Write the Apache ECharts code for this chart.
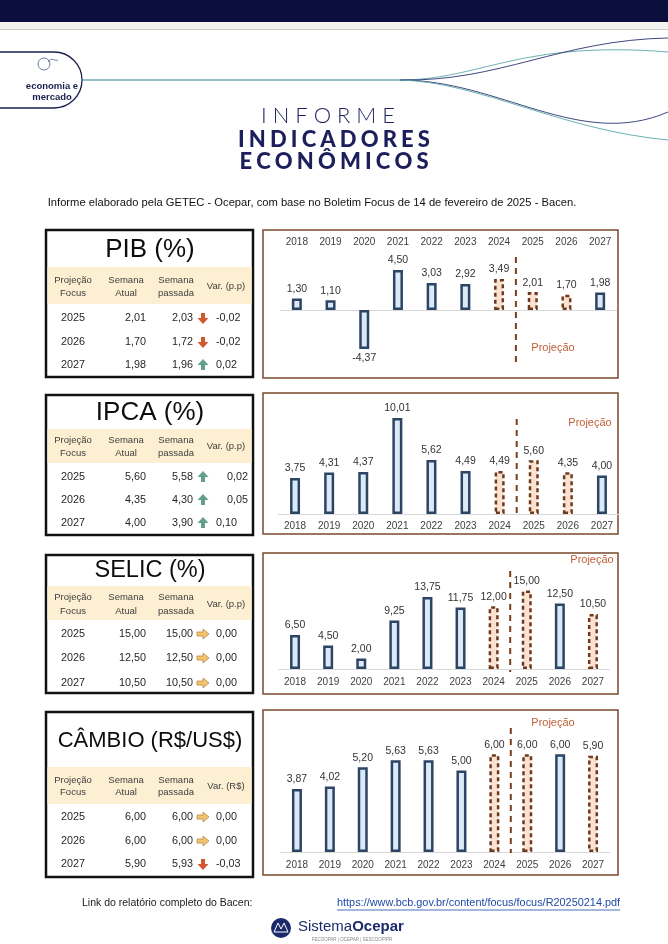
<!DOCTYPE html>
<html><head><meta charset="utf-8">
<script src="https://cdn.jsdelivr.net/npm/echarts@6/dist/echarts.min.js"></script>
<style>html,body{margin:0;padding:0;background:#fff}#c{width:668px;height:944px}</style>
</head><body><div id="c"></div>
<script>
// ---------- DATA ----------
const years = ['2018','2019','2020','2021','2022','2023','2024','2025','2026','2027'];
const projectionStart = '2025';
const pibValues    = [1.30, 1.10, -4.37, 4.50, 3.03, 2.92, 3.49, 2.01, 1.70, 1.98];
const ipcaValues   = [3.75, 4.31, 4.37, 10.01, 5.62, 4.49, 4.49, 5.60, 4.35, 4.00];
const selicValues  = [6.50, 4.50, 2.00, 9.25, 13.75, 11.75, 12.00, 15.00, 12.50, 10.50];
const cambioValues = [3.87, 4.02, 5.20, 5.63, 5.63, 5.00, 6.00, 6.00, 6.00, 5.90];
// bars drawn as estimates (dashed)
const pibEstimate    = [false,false,false,false,false,false,true,true,true,false];
const ipcaEstimate   = [false,false,false,false,false,false,true,true,true,false];
const selicEstimate  = [false,false,false,false,false,false,true,true,false,true];
const cambioEstimate = [false,false,false,false,false,false,true,true,false,true];

const focusYears = ['2025','2026','2027'];
const pibAtual = [2.01, 1.70, 1.98],  pibPassada = [2.03, 1.72, 1.96],  pibVar = [-0.02, -0.02, 0.02];
const ipcaAtual = [5.60, 4.35, 4.00], ipcaPassada = [5.58, 4.30, 3.90], ipcaVar = [0.02, 0.05, 0.10];
const selicAtual = [15.00, 12.50, 10.50], selicPassada = [15.00, 12.50, 10.50], selicVar = [0.00, 0.00, 0.00];
const cambioAtual = [6.00, 6.00, 5.90], cambioPassada = [6.00, 6.00, 5.93], cambioVar = [0.00, 0.00, -0.03];

// ---------- LAYOUT ----------
const FF = '"Liberation Sans", Arial, sans-serif';
const fmt = v => (v < 0 ? '-' : '') + Math.abs(v).toFixed(2).replace('.', ',');

const panels = [
  {title:'PIB (%)', tSize:26, tY:250, values:pibValues, est:pibEstimate, atual:pibAtual, passada:pibPassada, vari:pibVar, varLabel:'Var. (p.p)',
   tbox:[230,377], band:[267,304], hdr:[280,293], rows:[318,342,365], varAlign:['l','l','l'],
   cbox:[230,378], grid:{left:280, top:265.5, width:337, height:89}, min:-5, max:5, top:true, labMargin:18.5,
   dash:[257,362], proj:[553,348]},
  {title:'IPCA (%)', tSize:26, tY:413, values:ipcaValues, est:ipcaEstimate, atual:ipcaAtual, passada:ipcaPassada, vari:ipcaVar, varLabel:'Var. (p.p)',
   tbox:[395,535], band:[429,463], hdr:[440,453], rows:[477,500,523], varAlign:['r','r','l'],
   cbox:[393,534], grid:{left:278, top:408.4, width:341, height:105.6}, min:0, max:11, top:false, labMargin:7,
   dash:[419,518], proj:[590,423]},
  {title:'SELIC (%)', tSize:23.5, tY:571, values:selicValues, est:selicEstimate, atual:selicAtual, passada:selicPassada, vari:selicVar, varLabel:'Var. (p.p)',
   tbox:[555,693], band:[586,620], hdr:[597,611], rows:[634,658,683], varAlign:['l','l','l'],
   cbox:[553,694], grid:{left:278.5, top:585.3, width:331, height:83.7}, min:0, max:16, top:false, labMargin:8,
   dash:[571,672], proj:[592,560]},
  {title:'CÂMBIO (R$/US$)', tSize:22, tY:741, values:cambioValues, est:cambioEstimate, atual:cambioAtual, passada:cambioPassada, vari:cambioVar, varLabel:'Var. (R$)',
   tbox:[712,877], band:[767,804], hdr:[780,792], rows:[817,841,864], varAlign:['l','l','l'],
   cbox:[710,875], grid:{left:280.5, top:737.9, width:329, height:114.1}, min:0, max:7, top:false, labMargin:8,
   dash:[728,853], proj:[553,723]}
];

function T(x, y, text, o) {
  return {type:'text', x:x, y:y, silent:true, z:5,
    style:Object.assign({text:text, fill:'#262626', fontSize:10, fontFamily:FF, align:'center', verticalAlign:'middle'}, o || {})};
}
function arrow(cx, cy, v) {
  let pts, fill, stroke = null;
  if (v < 0) { pts = [[-2,-5],[2,-5],[2,0],[5.5,0],[0,6],[-5.5,0],[-2,0]]; fill = '#d4582f'; }
  else if (v > 0) { pts = [[-2,5],[2,5],[2,0],[5.5,0],[0,-6],[-5.5,0],[-2,0]]; fill = '#62a08d'; }
  else { pts = [[-6,-2],[0,-2],[0,-5],[6,0],[0,5],[0,2],[-6,2]]; fill = '#f2c470'; stroke = '#b98a3e'; }
  return {type:'polygon', x:cx, y:cy, z:5, silent:true, shape:{points:pts}, style:{fill:fill, stroke:stroke, lineWidth:0.8}};
}

const els = [];
// header band
els.push({type:'rect', shape:{x:0,y:0,width:668,height:22}, style:{fill:'#0c0e3e'}, silent:true});
els.push({type:'rect', shape:{x:0,y:22,width:668,height:7}, style:{fill:'#f4f3ef'}, silent:true});
els.push({type:'line', shape:{x1:0,y1:29.5,x2:668,y2:29.5}, style:{stroke:'#c9c9c9', lineWidth:1}, silent:true});
// logo pill
els.push({type:'rect', shape:{x:-30,y:52,width:112,height:56,r:28}, style:{fill:'none', stroke:'#1b1f4f', lineWidth:1.3}, silent:true});
els.push({type:'circle', shape:{cx:44,cy:64,r:6}, style:{fill:'none', stroke:'#4a5a8a', lineWidth:0.8}, silent:true});
els.push({type:'bezierCurve', shape:{x1:48,y1:62,x2:58,y2:60,cpx1:52,cpy1:56,cpx2:55,cpy2:62}, style:{fill:'none', stroke:'#4a5a8a', lineWidth:0.8}, silent:true});
els.push(T(52, 86, 'economia e', {fontSize:9.5, fontWeight:'bold', fill:'#1b1f4f'}));
els.push(T(52, 97, 'mercado', {fontSize:9.5, fontWeight:'bold', fill:'#1b1f4f'}));
els.push({type:'line', shape:{x1:82,y1:80,x2:400,y2:80}, style:{stroke:'#2f7d8c', lineWidth:1}, silent:true});
[
  [[400,80],[480,80],[520,40],[668,52],'#5aa8a8'],
  [[400,80],[500,82],[560,40],[668,38],'#2a3270'],
  [[400,80],[500,80],[580,150],[668,112],'#2a3270'],
  [[400,80],[480,82],[560,130],[668,140],'#5aa8a8']
].forEach(c => els.push({type:'bezierCurve', silent:true,
  shape:{x1:c[0][0],y1:c[0][1],cpx1:c[1][0],cpy1:c[1][1],cpx2:c[2][0],cpy2:c[2][1],x2:c[3][0],y2:c[3][1]},
  style:{fill:'none', stroke:c[4], lineWidth:0.9}}));
// title
const sp = '\u2009\u200A';
els.push(T(328, 116, 'I N F O R M E', {fontSize:22, fontFamily:'Lato, sans-serif', fontWeight:300, fill:'#1c1f5c'}));
els.push(T(334, 140, 'INDICADORES'.split('').join(sp), {fontSize:22, fontFamily:'Lato, sans-serif', fontWeight:900, fill:'#1c1f5c'}));
els.push(T(334, 162, 'ECONÔMICOS'.split('').join(sp), {fontSize:22, fontFamily:'Lato, sans-serif', fontWeight:900, fill:'#1c1f5c'}));
els.push(T(312, 203, 'Informe elaborado pela GETEC - Ocepar, com base no Boletim Focus de 14 de fevereiro de 2025 - Bacen.', {fontSize:11.2, fill:'#111'}));

// tables and chart frames
panels.forEach(p => {
  els.push({type:'rect', silent:true, shape:{x:46,y:p.tbox[0],width:207,height:p.tbox[1]-p.tbox[0]}, style:{fill:'#fff', stroke:'#111', lineWidth:2.5}});
  els.push({type:'rect', silent:true, z:1, shape:{x:47.5,y:p.band[0],width:204,height:p.band[1]-p.band[0]}, style:{fill:'#fdefd2'}});
  els.push(T(150, p.tY, p.title, {fontSize:p.tSize, fill:'#0d0d0d'}));
  const hs = {fontSize:9.5, fill:'#404040'};
  els.push(T(73, p.hdr[0], 'Projeção', hs)); els.push(T(73, p.hdr[1], 'Focus', hs));
  els.push(T(126, p.hdr[0], 'Semana', hs)); els.push(T(126, p.hdr[1], 'Atual', hs));
  els.push(T(176, p.hdr[0], 'Semana', hs)); els.push(T(176, p.hdr[1], 'passada', hs));
  els.push(T(226, (p.hdr[0]+p.hdr[1])/2, p.varLabel, hs));
  focusYears.forEach((yr, k) => {
    const y = p.rows[k], rs = {fontSize:10.8, fill:'#262626'};
    els.push(T(73, y, yr, rs));
    els.push(T(146, y, fmt(p.atual[k]), Object.assign({align:'right'}, rs)));
    els.push(T(193, y, fmt(p.passada[k]), Object.assign({align:'right'}, rs)));
    els.push(arrow(203, y, p.vari[k]));
    const r = p.varAlign[k] === 'r';
    els.push(T(r ? 248 : 216, y, fmt(p.vari[k]), Object.assign({align: r ? 'right' : 'left'}, rs)));
  });
  els.push({type:'rect', silent:true, shape:{x:263,y:p.cbox[0],width:355,height:p.cbox[1]-p.cbox[0]}, style:{fill:'none', stroke:'#7a4a2e', lineWidth:1.5}});
  els.push(T(p.proj[0], p.proj[1], 'Projeção', {fontSize:11, fill:'#c0603a'}));
});

// footer
els.push(T(82, 903, 'Link do relatório completo do Bacen:', {fontSize:10.5, align:'left', fill:'#1a1a1a'}));
const linkText = 'https://www.bcb.gov.br/content/focus/focus/R20250214.pdf';
const linkFont = 10.9;
const mctx = document.createElement('canvas').getContext('2d');
mctx.font = linkFont + 'px "Liberation Sans", Arial, sans-serif';
const linkW = mctx.measureText(linkText).width;
els.push(T(337, 903, linkText, {fontSize:linkFont, align:'left', fill:'#1f4aa8'}));
els.push({type:'line', silent:true, shape:{x1:337,y1:910,x2:337+linkW,y2:910}, style:{stroke:'#1f4aa8', lineWidth:0.8}});
els.push({type:'circle', silent:true, shape:{cx:281,cy:928,r:10}, style:{fill:'#1b2a6b'}});
els.push({type:'polygon', silent:true, shape:{points:[[274,932],[278,923],[281,929],[284,923],[288,932]]}, style:{fill:'none', stroke:'#fff', lineWidth:1}});
els.push({type:'text', silent:true, x:298, y:927, style:{text:'{a|Sistema}{b|Ocepar}', verticalAlign:'middle', align:'left',
  rich:{a:{fontSize:15, fontFamily:FF, fill:'#1b2a6b'}, b:{fontSize:15, fontFamily:FF, fontWeight:'bold', fill:'#1b2a6b'}}}});
els.push(T(352, 940, 'FECOOPAR | OCEPAR | SESCOOP/PR', {fontSize:4.5, fill:'#888'}));

// ---------- CHART ----------
const histStyle = {color:'#dce9f7', borderColor:'#2d4565', borderWidth:2.5};
const estStyle  = {color:'#fbe2d0', borderColor:'#6e3a1e', borderWidth:2.5, borderType:[4,3]};

const grids = [], xAxes = [], yAxes = [], series = [];
panels.forEach((p, i) => {
  grids.push(Object.assign({containLabel:false}, p.grid));
  xAxes.push({type:'category', gridIndex:i, data:years, position:p.top ? 'top' : 'bottom',
    axisLine:{show:!p.top, onZero:!p.top, lineStyle:{color:'#d9d9d9', width:1}},
    axisTick:{show:false},
    axisLabel:{color:'#404040', fontSize:10, fontFamily:FF, margin:p.labMargin, interval:0}});
  yAxes.push({type:'value', gridIndex:i, min:p.min, max:p.max, show:false, splitLine:{show:false}});
  const s = {type:'bar', xAxisIndex:i, yAxisIndex:i, barWidth:10, z:3,
    data:p.values.map((v, j) => ({value:v, itemStyle:p.est[j] ? estStyle : histStyle, label:{position: v < 0 ? 'bottom' : 'top'}})),
    label:{show:true, formatter:d => fmt(d.value), color:'#333', fontSize:10.5, fontFamily:FF, distance:4}};
  if (p.top) s.markLine = {silent:true, symbol:['none','none'], label:{show:false}, z:1,
    lineStyle:{color:'#d9d9d9', type:'solid', width:1}, data:[{yAxis:0}]};
  series.push(s);
});

const chart = echarts.init(document.getElementById('c'), null, {renderer:'canvas', width:668, height:944});
chart.setOption({animation:false, backgroundColor:'#fff', grid:grids, xAxis:xAxes, yAxis:yAxes, series:series});

// projection dividers between the last actual year and the first projected one
const pIdx = years.indexOf(projectionStart);
panels.forEach((p, i) => {
  const a = chart.convertToPixel({xAxisIndex:i}, pIdx - 1);
  const b = chart.convertToPixel({xAxisIndex:i}, pIdx);
  const x = (a + b) / 2;
  els.push({type:'line', silent:true, z:10, shape:{x1:x,y1:p.dash[0],x2:x,y2:p.dash[1]}, style:{stroke:'#7a3f20', lineWidth:2, lineDash:[6,5]}});
});
chart.setOption({graphic:{elements:els}});
</script>
</body></html>
